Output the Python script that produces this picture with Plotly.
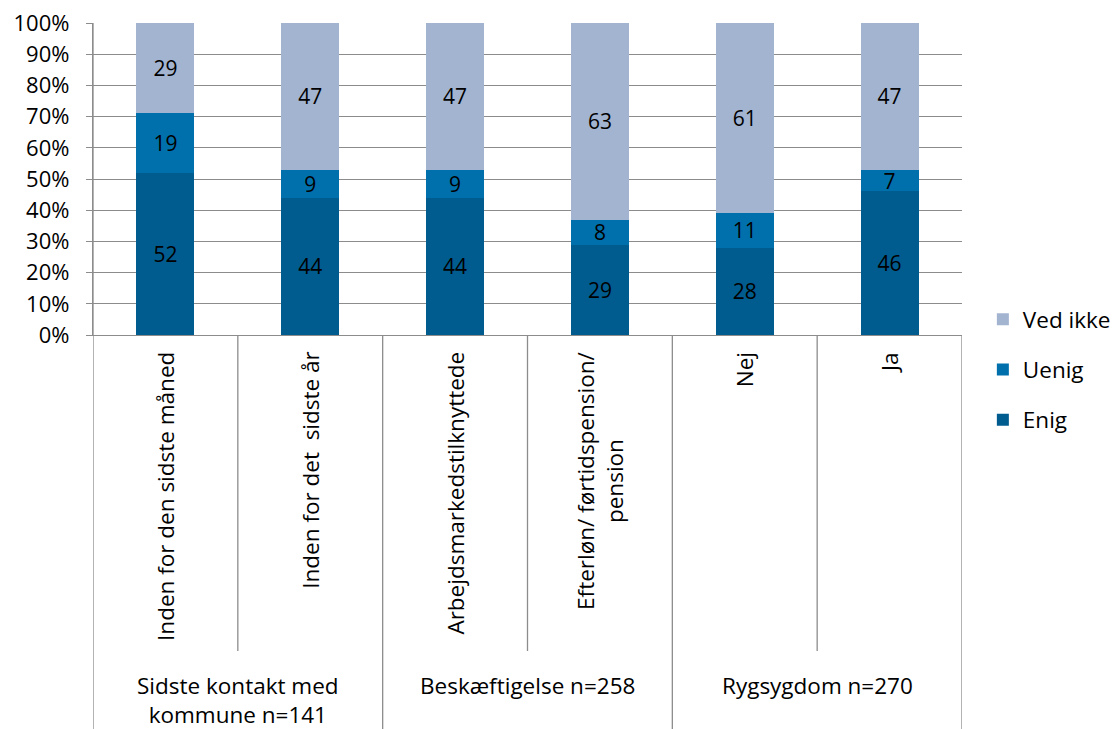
import plotly.graph_objects as go

# Survey answers (percent) per subgroup
categories = [
    "Inden for den sidste måned",
    "Inden for det  sidste år",
    "Arbejdsmarkedstilknyttede",
    "Efterløn/ førtidspension/<br>pension",
    "Nej",
    "Ja",
]
groups = ["Sidste kontakt med<br>kommune n=141", "Beskæftigelse n=258", "Rygsygdom n=270"]
group_members = [[0, 1], [2, 3], [4, 5]]

enig = [52, 44, 44, 29, 28, 46]
uenig = [19, 9, 9, 8, 11, 7]
ved_ikke = [29, 47, 47, 63, 61, 47]

y_ticks = [0, 10, 20, 30, 40, 50, 60, 70, 80, 90, 100]
y_tick_labels = [f"{v}%" for v in y_ticks]

FONT = "Open Sans"
GRID = "#8c8c8c"
TXT = 22.5

W, H = 1118, 729
M_L, M_R, M_T, M_B = 93, 156, 23, 394
PLOT_H = H - M_T - M_B


def py(pixel_y):
    """Paper y coordinate for a pixel row of the page."""
    return (H - M_B - pixel_y) / PLOT_H


x_idx = list(range(len(categories)))

fig = go.Figure()
# (name, values, colour, legend rank: top entry first)
series = [
    ("Enig", enig, "#005B8F", 3),
    ("Uenig", uenig, "#0070AD", 2),
    ("Ved ikke", ved_ikke, "#A2B4D0", 1),
]
for name, vals, color, rank in series:
    fig.add_trace(go.Bar(
        x=x_idx, y=vals, name=name, legendgroup=name, legendrank=rank,
        marker=dict(color=color, line=dict(width=0)),
        text=[str(v) for v in vals], textposition="inside", textangle=0,
        insidetextanchor="middle", constraintext="none",
        textfont=dict(family=FONT, size=21, color="#000000"),
        hoverinfo="skip",
    ))

shapes = []
# category table below the axis: inner separators and group borders
for xi in [0.5, 2.5, 4.5]:
    shapes.append(dict(type="line", xref="x", yref="paper", x0=xi, x1=xi,
                       y0=0, y1=py(651), line=dict(color=GRID, width=1.3)))
for xi in [-0.5, 1.5, 3.5, 5.5]:
    shapes.append(dict(type="line", xref="x", yref="paper", x0=xi, x1=xi,
                       y0=0 if xi != -0.5 else 1, y1=py(H + 5),
                       line=dict(color=GRID, width=1.3)))

annotations = []
for i, lab in enumerate(categories):
    annotations.append(dict(
        x=i, xref="x", y=py(350), yref="paper", text=lab, showarrow=False,
        textangle=-90, xanchor="center", yanchor="top", align="center",
        font=dict(family=FONT, size=TXT, color="#000000"),
    ))
for g, members in zip(groups, group_members):
    annotations.append(dict(
        x=sum(members) / len(members), xref="x", y=py(668), yref="paper",
        text=g, showarrow=False, xanchor="center", yanchor="top", align="center",
        font=dict(family=FONT, size=TXT, color="#000000"),
    ))

fig.update_layout(
    width=W, height=H,
    margin=dict(l=M_L, r=M_R, t=M_T, b=M_B, pad=0, autoexpand=False),
    barmode="stack", bargap=0.6,
    paper_bgcolor="white", plot_bgcolor="white",
    font=dict(family=FONT, size=TXT, color="#000000"),
    shapes=shapes, annotations=annotations,
    legend=dict(
        x=1.024, xanchor="left", y=py(298), yanchor="top",
        traceorder="grouped", tracegroupgap=18,
        font=dict(family=FONT, size=TXT, color="#000000"),
        bgcolor="rgba(0,0,0,0)",
    ),
    xaxis=dict(
        range=[-0.5, 5.5], showticklabels=False, showgrid=False,
        showline=True, linecolor=GRID, linewidth=1.3, ticks="", zeroline=False,
        fixedrange=True,
    ),
    yaxis=dict(
        range=[0, 100], tickmode="array", tickvals=y_ticks, ticktext=y_tick_labels,
        showgrid=True, gridcolor=GRID, gridwidth=1.3,
        showline=True, linecolor=GRID, linewidth=1.3,
        ticks="outside", ticklen=6, tickcolor=GRID, tickwidth=1.3,
        ticklabelstandoff=12,
        zeroline=False, tickfont=dict(family=FONT, size=22, color="#000000"),
        fixedrange=True,
    ),
)

fig.write_html("out.html")
